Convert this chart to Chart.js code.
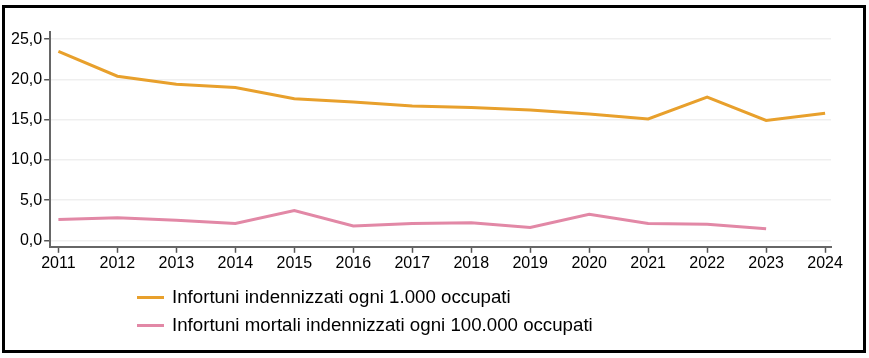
<!DOCTYPE html>
<html>
<head>
<meta charset="utf-8">
<script src="https://cdn.jsdelivr.net/npm/chart.js@4"></script>
<style>
  body { margin: 0; background: #fff; font-family: "Liberation Sans", Arial, sans-serif; }
  #frame { position: absolute; left: 2px; top: 5px; width: 864px; height: 348px; border: 3px solid #000; box-sizing: border-box; }
  #wrap { position: absolute; left: 0; top: 0; width: 869px; height: 358px; }
  #legend { position: absolute; left: 137px; top: 283px; font-size: 18.7px; color: #000; }
  .item { display: flex; align-items: center; height: 28px; }
  .swatch { width: 27px; height: 3px; margin-right: 8px; }
</style>
</head>
<body>
<div id="frame"></div>
<div id="wrap"><canvas id="chart" width="869" height="358"></canvas></div>
<div id="legend"></div>
<script>
const years = [2011, 2012, 2013, 2014, 2015, 2016, 2017, 2018, 2019, 2020, 2021, 2022, 2023, 2024];
const infortuni = [23.5, 20.4, 19.4, 19.0, 17.6, 17.2, 16.7, 16.5, 16.2, 15.7, 15.1, 17.8, 14.9, 15.8];
const mortali = [2.6, 2.8, 2.5, 2.1, 3.7, 1.8, 2.1, 2.2, 1.6, 3.25, 2.1, 2.0, 1.45, null];
const yTicks = [0, 5, 10, 15, 20, 25];

const labelInfortuni = 'Infortuni indennizzati ogni 1.000 occupati';
const labelMortali = 'Infortuni mortali indennizzati ogni 100.000 occupati';

const ctx = document.getElementById('chart').getContext('2d');

const chart = new Chart(ctx, {
    type: 'line',
    data: {
        datasets: [
            {
                label: labelInfortuni,
                data: years.map((y, i) => ({ x: y, y: infortuni[i] })),
                borderColor: 'rgb(232, 160, 44)',
                borderWidth: 3,
                pointRadius: 0,
                fill: false,
                tension: 0
            },
            {
                label: labelMortali,
                data: years.map((y, i) => ({ x: y, y: mortali[i] })),
                borderColor: 'rgb(226, 136, 166)',
                borderWidth: 3,
                pointRadius: 0,
                fill: false,
                tension: 0
            }
        ]
    },
    options: {
        responsive: false,
        animation: false,
        layout: { padding: { left: 9, top: 32, right: 38, bottom: 84 } },
        plugins: {
            legend: { display: false },
            tooltip: { enabled: false }
        },
        scales: {
            x: {
                type: 'linear',
                min: 2010.86,
                max: 2024.1,
                afterBuildTicks: (axis) => { axis.ticks = years.map(v => ({ value: v })); },
                ticks: {
                    color: '#000',
                    font: { family: 'Liberation Sans', size: 16 },
                    padding: 1,
                    maxRotation: 0,
                    autoSkip: false,
                    callback: v => String(v)
                },
                grid: { drawOnChartArea: false, drawTicks: true, tickLength: 6, tickColor: '#555', tickWidth: 1.5 },
                border: { color: '#666', width: 2 }
            },
            y: {
                min: -0.8,
                max: 25.9,
                afterBuildTicks: (axis) => { axis.ticks = yTicks.map(v => ({ value: v })); },
                ticks: {
                    color: '#000',
                    font: { family: 'Liberation Sans', size: 16 },
                    padding: 2,
                    callback: v => v.toFixed(1).replace('.', ',')
                },
                grid: { color: '#efefef', lineWidth: 1.5, tickLength: 6, tickColor: '#555', tickWidth: 1.5 },
                border: { color: '#666', width: 2 }
            }
        }
    }
});

// legend below the chart, one item per row
const legend = document.getElementById('legend');
chart.data.datasets.forEach(ds => {
    const row = document.createElement('div');
    row.className = 'item';
    const sw = document.createElement('span');
    sw.className = 'swatch';
    sw.style.background = ds.borderColor;
    const txt = document.createElement('span');
    txt.textContent = ds.label;
    row.appendChild(sw);
    row.appendChild(txt);
    legend.appendChild(row);
});
</script>
</body>
</html>
